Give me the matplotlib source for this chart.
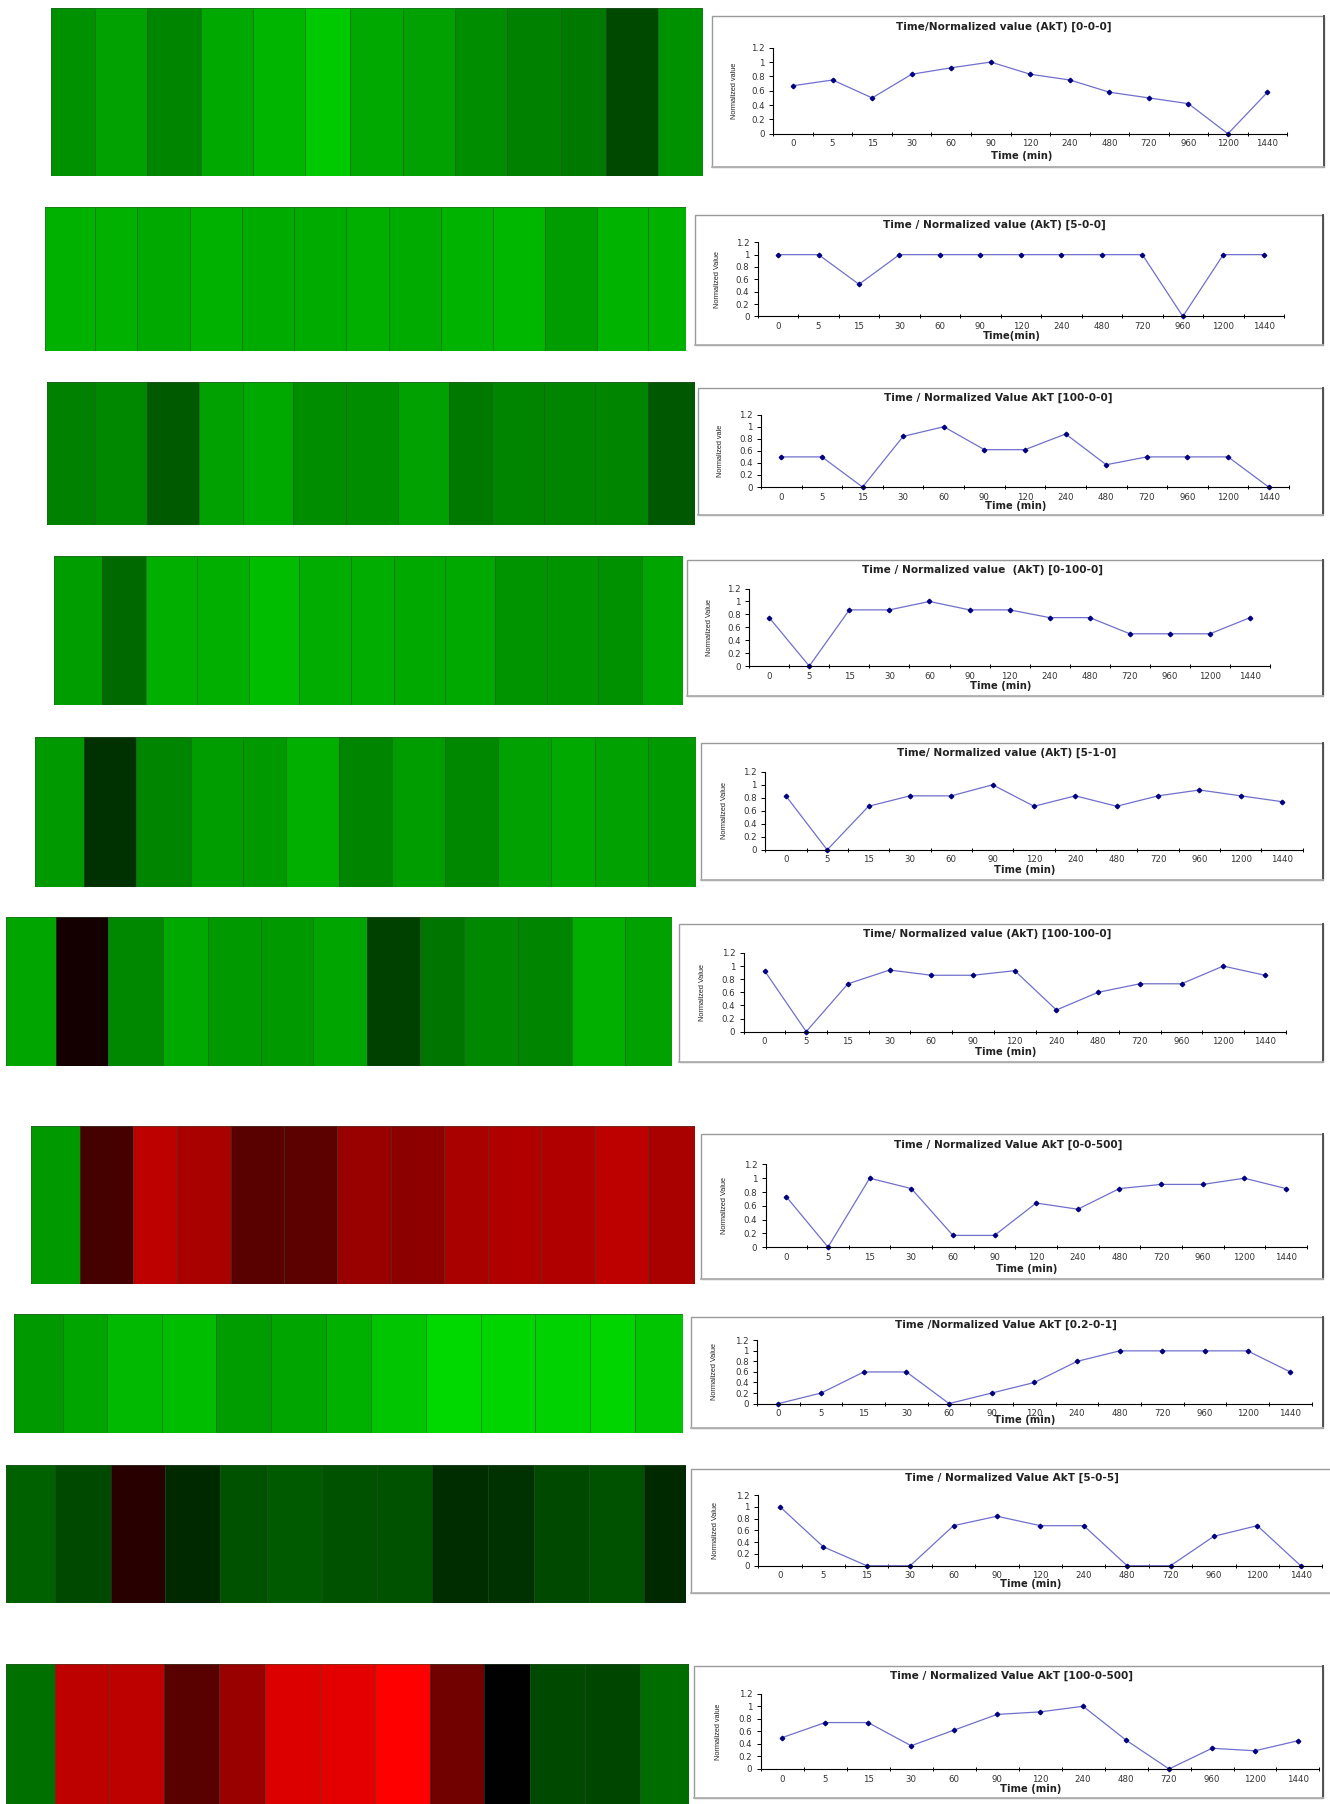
import matplotlib
matplotlib.use("Agg")
import matplotlib.pyplot as plt
from matplotlib.colors import LinearSegmentedColormap, Normalize
from matplotlib.patches import Rectangle
from matplotlib.lines import Line2D
import numpy as np

plt.rcParams['font.family'] = ['DejaVu Sans']

# ---------------- data ----------------
time_labels = ["0", "5", "15", "30", "60", "90", "120", "240", "480", "720", "960", "1200", "1440"]

titles = [
    "Time/Normalized value (AkT) [0-0-0]",
    "Time / Normalized value (AkT) [5-0-0]",
    "Time / Normalized Value AkT [100-0-0]",
    "Time / Normalized value  (AkT) [0-100-0]",
    "Time/ Normalized value (AkT) [5-1-0]",
    "Time/ Normalized value (AkT) [100-100-0]",
    "Time / Normalized Value AkT [0-0-500]",
    "Time /Normalized Value AkT [0.2-0-1]",
    "Time / Normalized Value AkT [5-0-5]",
    "Time / Normalized Value AkT [100-0-500]",
]
xlabels = ["Time (min)", "Time(min)", "Time (min)", "Time (min)", "Time (min)",
           "Time (min)", "Time (min)", "Time (min)", "Time (min)", "Time (min)"]
ylabels = ["Normalized value", "Normalized Value", "Normalized vale", "Normalized Value",
           "Normalized Value", "Normalized Value", "Normalized Value", "Normalized Value",
           "Normalized Value", "Normalized value"]

vals_0_0_0 = [0.67, 0.75, 0.50, 0.83, 0.92, 1.00, 0.83, 0.75, 0.58, 0.50, 0.42, 0.00, 0.58]
vals_5_0_0 = [1.00, 1.00, 0.52, 1.00, 1.00, 1.00, 1.00, 1.00, 1.00, 1.00, 0.00, 1.00, 1.00]
vals_100_0_0 = [0.50, 0.50, 0.00, 0.84, 1.00, 0.62, 0.62, 0.88, 0.37, 0.50, 0.50, 0.50, 0.00]
vals_0_100_0 = [0.75, 0.00, 0.87, 0.87, 1.00, 0.87, 0.87, 0.75, 0.75, 0.50, 0.50, 0.50, 0.75]
vals_5_1_0 = [0.83, 0.00, 0.67, 0.83, 0.83, 1.00, 0.67, 0.83, 0.67, 0.83, 0.92, 0.83, 0.74]
vals_100_100_0 = [0.93, 0.00, 0.73, 0.94, 0.86, 0.86, 0.93, 0.33, 0.60, 0.73, 0.73, 1.00, 0.86]
vals_0_0_500 = [0.73, 0.00, 1.00, 0.85, 0.17, 0.17, 0.64, 0.55, 0.85, 0.91, 0.91, 1.00, 0.85]
vals_02_0_1 = [0.00, 0.20, 0.60, 0.60, 0.00, 0.20, 0.40, 0.80, 1.00, 1.00, 1.00, 1.00, 0.60]
vals_5_0_5 = [1.00, 0.32, 0.00, 0.00, 0.68, 0.84, 0.68, 0.68, 0.00, 0.00, 0.50, 0.68, 0.00]
vals_100_0_500 = [0.50, 0.74, 0.74, 0.37, 0.62, 0.87, 0.91, 1.00, 0.46, 0.00, 0.33, 0.29, 0.45]

# heatmap intensities: positive = green level, negative = red level (0..255)
heat_0_0_0 = [144, 160, 132, 168, 180, 200, 168, 160, 140, 128, 120, 72, 144]
heat_5_0_0 = [176, 176, 168, 176, 170, 170, 174, 170, 178, 182, 156, 178, 176]
heat_100_0_0 = [128, 136, 90, 160, 168, 140, 140, 160, 120, 132, 132, 132, 88]
heat_0_100_0 = [156, 104, 174, 174, 188, 172, 172, 168, 168, 148, 148, 144, 164]
heat_5_1_0 = [152, 48, 132, 156, 152, 174, 132, 156, 136, 160, 168, 160, 152]
heat_100_100_0 = [164, -20, 136, 168, 152, 152, 164, 64, 116, 136, 132, 174, 160]
heat_0_0_500 = [152, -68, -188, -168, -88, -92, -152, -140, -168, -176, -176, -188, -168]
heat_02_0_1 = [152, 164, 184, 188, 156, 164, 176, 196, 216, 212, 208, 212, 196]
heat_5_0_5 = [96, 72, -40, 40, 80, 90, 80, 80, 44, 48, 72, 80, 40]
heat_100_0_500 = [112, -188, -188, -88, -152, -220, -228, -255, -112, 0, 72, 68, 108]

series = [vals_0_0_0, vals_5_0_0, vals_100_0_0, vals_0_100_0, vals_5_1_0,
          vals_100_100_0, vals_0_0_500, vals_02_0_1, vals_5_0_5, vals_100_0_500]
heats = [heat_0_0_0, heat_5_0_0, heat_100_0_0, heat_0_100_0, heat_5_1_0,
         heat_100_100_0, heat_0_0_500, heat_02_0_1, heat_5_0_5, heat_100_0_500]

# ---------------- layout (pixels, origin top-left) ----------------
W, H = 1330, 1804
heat_boxes = [  # x0, x1, y0, y1
    (51, 703, 8, 176), (45, 686, 207, 351), (47, 695, 382, 525), (54, 683, 556, 705),
    (35, 696, 737, 887), (6, 672, 917, 1066), (31, 695, 1126, 1284), (14, 683, 1314, 1433),
    (6, 686, 1465, 1603), (6, 689, 1664, 1804),
]
# relative cell boundary positions inside each strip (layout only)
cell_edges = [
    [111, 206, 320, 437, 550, 665, 762, 877, 990, 1105, 1222, 1320, 1432, 1531],
    [98, 206, 299, 413, 526, 639, 752, 846, 959, 1072, 1186, 1299, 1410, 1492],
    [102, 206, 319, 433, 528, 638, 754, 866, 978, 1071, 1184, 1296, 1412, 1514],
    [118, 223, 319, 430, 543, 652, 764, 858, 970, 1078, 1192, 1302, 1398, 1487],
    [74, 181, 295, 413, 527, 622, 737, 853, 968, 1083, 1199, 1294, 1410, 1515],
    [13, 122, 236, 354, 452, 567, 682, 798, 913, 1010, 1127, 1244, 1360, 1462],
    [68, 174, 290, 386, 502, 618, 734, 850, 966, 1062, 1178, 1295, 1409, 1512],
    [30, 136, 233, 352, 470, 590, 710, 807, 927, 1046, 1165, 1284, 1382, 1487],
    [13, 120, 241, 358, 479, 580, 701, 820, 940, 1061, 1162, 1281, 1401, 1493],
    [13, 120, 238, 358, 478, 577, 697, 817, 937, 1055, 1155, 1275, 1395, 1501],
]
# inner layout reference box (x0, x1, y0, y1)
chart_boxes = [
    (712, 1296, 16, 167), (695, 1293, 215, 345), (698, 1298, 388, 515), (687, 1279, 560, 696),
    (701, 1312, 743, 880), (679, 1295, 924, 1062), (701, 1316, 1134, 1279), (691, 1321, 1317, 1428),
    (691, 1332, 1469, 1593), (694, 1329, 1666, 1798),
]
frame_right = [1324, 1323, 1323, 1323, 1323, 1323, 1323, 1323, 1334, 1323]

fig = plt.figure(figsize=(W / 100, H / 100), dpi=100)
fig.patch.set_facecolor("white")


def fx(x):
    return x / W


def fy(y):
    return 1 - y / H


cmap = LinearSegmentedColormap.from_list("rg", [(1, 0, 0), (0, 0, 0), (0, 1, 0)])
norm = Normalize(vmin=-255, vmax=255)

for i in range(10):
    # heatmap strip
    x0, x1, y0, y1 = heat_boxes[i]
    axh = fig.add_axes([fx(x0), fy(y1), fx(x1) - fx(x0), fy(y0) - fy(y1)])
    e = np.array(cell_edges[i], dtype=float)
    e = (e - e[0]) / (e[-1] - e[0])
    data = np.array(heats[i], dtype=float)[None, :]
    axh.pcolormesh(e, [0, 1], data, cmap=cmap, norm=norm,
                   edgecolor=(0.2, 0.3, 0.2, 0.5), linewidth=0.5)
    axh.set_xlim(0, 1)
    axh.set_ylim(0, 1)
    axh.set_axis_off()

    # chart frame
    bx0, bx1, by0, by1 = chart_boxes[i]
    fr = frame_right[i]
    bw, bh = bx1 - bx0, by1 - by0
    fig.add_artist(Rectangle((fx(bx0), fy(by1)), fx(fr) - fx(bx0), fy(by0) - fy(by1),
                             transform=fig.transFigure, facecolor="white",
                             edgecolor="#9a9a9a", linewidth=1.0, zorder=0))
    fig.add_artist(Line2D([fx(fr), fx(fr)], [fy(by1), fy(by0)], transform=fig.transFigure,
                          color="#505050", linewidth=1.4, zorder=1))
    fig.add_artist(Line2D([fx(bx0), fx(fr)], [fy(by1), fy(by1)], transform=fig.transFigure,
                          color="#b0b0b0", linewidth=1.3, zorder=1))

    # plot area
    px0 = bx0 + 0.105 * bw
    px1 = bx0 + 0.985 * bw
    py0 = by0 + 0.21 * bh
    py1 = by0 + 0.78 * bh
    ax = fig.add_axes([fx(px0), fy(py1), fx(px1) - fx(px0), fy(py0) - fy(py1)])
    ax.set_facecolor("none")
    xs = np.arange(len(series[i]))
    ax.plot(xs, series[i], color="#7070cc", linewidth=0.9, marker="D", markersize=2.3,
            markerfacecolor="#000080", markeredgecolor="#000080", clip_on=False)
    ax.set_xlim(-0.5, len(series[i]) - 0.5)
    ax.set_ylim(0, 1.2)
    ax.set_yticks([0, 0.2, 0.4, 0.6, 0.8, 1.0, 1.2])
    ax.set_yticklabels(["0", "0.2", "0.4", "0.6", "0.8", "1", "1.2"])
    ax.set_xticks(xs)
    ax.set_xticklabels(time_labels)
    ax.set_xticks(np.arange(len(series[i]) + 1) - 0.5, minor=True)
    ax.tick_params(axis="x", which="major", length=0, labelsize=6.2, pad=4, labelcolor="#333333")
    ax.tick_params(axis="x", which="minor", length=3, direction="inout", width=0.7, color="black")
    ax.tick_params(axis="y", which="major", length=3, direction="out", width=0.7,
                   labelsize=6.2, pad=3, color="black", labelcolor="#333333")
    for s in ("top", "right"):
        ax.spines[s].set_visible(False)
    for s in ("left", "bottom"):
        ax.spines[s].set_linewidth(0.8)
        ax.spines[s].set_color("black")

    # texts
    fig.text(fx(bx0 + 0.5 * bw), fy(by0 + 0.075 * bh), titles[i], ha="center", va="center",
             fontsize=7.6, fontweight="bold", color="#222222")
    fig.text(fx(bx0 + 0.5 * bw + 0.03 * bw), fy(by0 + 0.93 * bh), xlabels[i], ha="center",
             va="center", fontsize=7.2, fontweight="bold", color="#222222")
    fig.text(fx(bx0 + 0.038 * bw), fy((py0 + py1) / 2), ylabels[i], ha="center", va="center",
             rotation=90, fontsize=5.3, color="#222222", family="Liberation Sans")

fig.savefig("out.png", dpi=100, facecolor="white")
